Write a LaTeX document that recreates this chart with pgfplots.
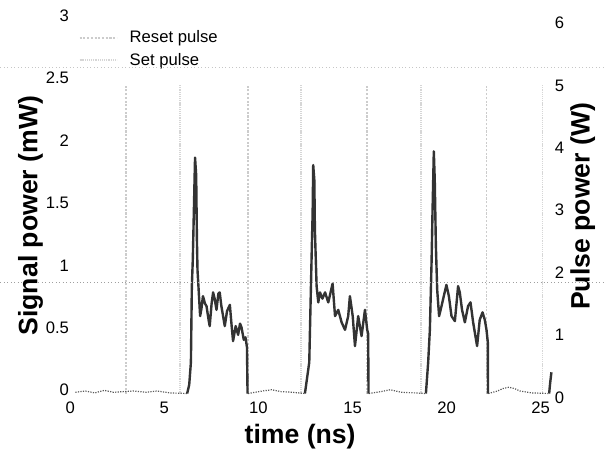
\documentclass[border=0pt]{standalone}
\usepackage{fontspec}
\setmainfont{Liberation Sans}
\usepackage{pgfplots}
\pgfplotsset{compat=1.18}

\begin{document}
\begin{tikzpicture}
\pgfplotsset{
  twin/.style={
    scale only axis, width=360.3pt, height=281.25pt,
    xmin=0, xmax=25.5,
    axis line style={draw=none}, tick style={draw=none},
    tick label style={font=\fontsize{12.5}{14}\selectfont},
    label style={font=\fontsize{20}{24}\selectfont\bfseries},
    /pgf/number format/assume math mode=true,
    clip=false,
  },
}
% right axis: pulse power (W)
\begin{axis}[twin,
  ymin=0, ymax=6,
  axis x line=none, axis y line*=right,
  ytick={0,1,...,6},
  yticklabel style={yshift=-3pt},
  ylabel={Pulse power (W)},
  ylabel style={at={(axis description cs:1.068,0.5)}, anchor=center},
  legend style={draw=none, fill=none, at={(0.017,0.976)}, anchor=north west,
    font=\fontsize{12.5}{14}\selectfont, row sep=2pt, inner sep=0pt,
    /tikz/every odd column/.append style={column sep=7pt}},
  legend cell align=left,
  legend image code/.code={\draw[#1] (0pt,0pt) -- (28pt,0pt);},
  unbounded coords=jump,
]
\addplot[gray!40, line width=1.3pt, dash pattern=on 1.6pt off 1.2pt] coordinates {
  (2.97,0) (2.97,4.95) (2.97,nan)
  (9.43,0) (9.43,4.95) (9.43,nan)
  (15.75,0) (15.75,4.95) (15.75,nan)
  (22.12,0) (22.12,4.95) };
\addplot[gray!32, line width=1.3pt, dash pattern=on 0.8pt off 0.6pt] coordinates {
  (5.84,0) (5.84,4.95) (5.84,nan)
  (12.25,0) (12.25,4.95) (12.25,nan)
  (18.63,0) (18.63,4.95) (18.63,nan)
  (25.09,0) (25.09,4.95) };
\legend{Reset pulse, Set pulse}
\end{axis}

% left axis: signal power (mW)
\begin{axis}[twin,
  ymin=0, ymax=3,
  axis x line*=bottom, axis y line*=left,
  xtick={0,5,...,25},
  ytick={0,0.5,...,3},
  yticklabel style={xshift=2.5pt, yshift=2.5pt},
  xticklabel style={yshift=-2.75pt},
  xlabel={time (ns)},
  ylabel={Signal power (mW)},
  xlabel style={at={(axis description cs:0.479,-0.115)}, anchor=center},
  ylabel style={at={(axis description cs:-0.083,0.475)}, anchor=center},
  unbounded coords=jump,
]
% baseline between pulses
\addplot[black!65, densely dotted, line width=0.9pt] coordinates {
  (0.27,0.01) (0.8,0.02) (1.3,0.005) (1.8,0.025) (2.3,0.01) (2.8,0.015)
  (3.4,0.02) (4.0,0.01) (4.6,0.02) (5.3,0.005) (6.21,0) (6.21,nan)
  (9.45,0) (10.2,0.02) (10.7,0.03) (11.2,0.015) (11.8,0.01) (12.47,0) (12.47,nan)
  (15.87,0) (16.5,0.015) (17.0,0.03) (17.6,0.01) (18.3,0.005) (18.9,0) (18.9,nan)
  (22.22,0) (22.7,0.02) (23.0,0.04) (23.3,0.05) (23.6,0.04) (23.9,0.02)
  (24.5,0.005) (25.45,0) };
% signal pulses
\addplot[black!80, line width=1.8pt, line join=round] coordinates {
  (6.21,0) (6.32,0.07) (6.41,0.25) (6.46,0.86) (6.51,1.07) (6.58,1.55)
  (6.63,1.89) (6.69,1.75) (6.73,1.23) (6.76,0.99) (6.81,0.86) (6.90,0.62)
  (6.97,0.68) (7.05,0.78) (7.16,0.72) (7.24,0.70) (7.36,0.58) (7.41,0.54)
  (7.51,0.72) (7.59,0.81) (7.67,0.76) (7.77,0.67) (7.87,0.80) (7.94,0.81)
  (8.03,0.70) (8.12,0.62) (8.21,0.54) (8.33,0.66) (8.48,0.71) (8.57,0.55)
  (8.65,0.42) (8.79,0.54) (8.92,0.47) (9.02,0.56) (9.10,0.53) (9.22,0.43)
  (9.31,0.45) (9.39,0.37) (9.42,0) (9.42,nan)
  (12.47,0) (12.70,0.25) (12.83,1.13) (12.88,1.45) (12.91,1.83) (12.97,1.71)
  (13.00,1.31) (13.09,0.86) (13.18,0.73) (13.27,0.81) (13.40,0.76) (13.54,0.81)
  (13.71,0.73) (13.94,0.88) (14.07,0.62) (14.24,0.67) (14.42,0.57) (14.60,0.51)
  (14.77,0.62) (14.86,0.78) (15.01,0.62) (15.13,0.38) (15.30,0.62) (15.48,0.46)
  (15.66,0.67) (15.78,0.51) (15.83,0.48) (15.85,0) (15.85,nan)
  (18.90,0) (19.02,0.25) (19.11,0.51) (19.20,1.05) (19.25,1.45) (19.32,1.94)
  (19.37,1.71) (19.43,1.18) (19.50,0.83) (19.60,0.62) (19.73,0.70) (19.85,0.78)
  (19.99,0.87) (20.12,0.78) (20.26,0.62) (20.44,0.58) (20.61,0.86) (20.70,0.81)
  (20.82,0.67) (20.97,0.57) (21.14,0.70) (21.27,0.73) (21.41,0.57) (21.62,0.38)
  (21.76,0.59) (21.91,0.65) (22.03,0.59) (22.12,0.51) (22.19,0.41) (22.20,0)
  (22.20,nan)
  (25.45,0) (25.50,0.08) (25.57,0.17) };
% faint full-width dotted rules of the scanned figure
\draw[gray!45, dotted, line width=0.6pt] (axis cs:-3.715,2.61) -- (axis cs:28.45,2.61);
\draw[gray!75, dotted, line width=0.6pt] (axis cs:-3.715,0.888) -- (axis cs:28.45,0.888);
\path (axis cs:-3.715,-0.44) rectangle (axis cs:28.45,3.152);
\end{axis}
\end{tikzpicture}
\end{document}
